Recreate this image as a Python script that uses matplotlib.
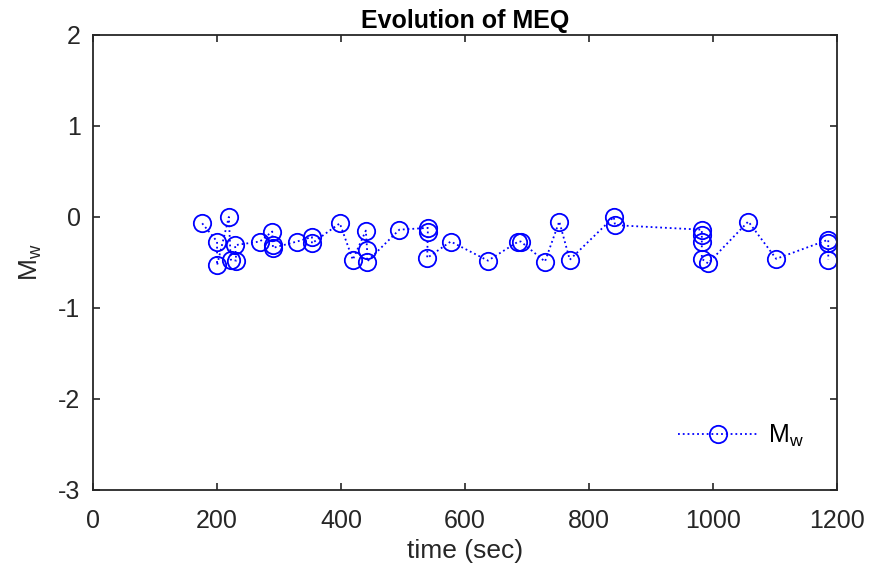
import numpy as np
import matplotlib
matplotlib.use("Agg")
import matplotlib.pyplot as plt

# event times (sec) and moment magnitudes
t_sec = [176, 200, 200, 219, 222, 231, 229, 269, 289, 290, 290, 329, 353, 353,
         398, 419, 440, 442, 442, 494, 540, 540, 539, 577, 637, 686, 690, 729,
         752, 769, 840, 842, 982, 982, 982, 982, 992, 1057, 1102, 1186, 1186,
         1186]
mw = [-0.07, -0.27, -0.53, 0.00, -0.47, -0.48, -0.31, -0.27, -0.16, -0.31,
      -0.34, -0.27, -0.22, -0.29, -0.07, -0.47, -0.15, -0.36, -0.49, -0.14,
      -0.12, -0.16, -0.45, -0.27, -0.48, -0.27, -0.27, -0.49, -0.05, -0.47,
      0.00, -0.09, -0.14, -0.20, -0.27, -0.46, -0.51, -0.05, -0.46, -0.25,
      -0.29, -0.47]

plt.rcParams['font.family'] = ['Liberation Sans', 'DejaVu Sans']
plt.rcParams['mathtext.default'] = 'regular'
plt.rcParams['axes.unicode_minus'] = False

fig = plt.figure(figsize=(8.7, 5.69), dpi=100)
ax = fig.add_axes([0.107, 0.139, 0.855, 0.7995])

ax.plot(t_sec, mw, ':', color='#0000ff', linewidth=1.3, marker='o',
        markersize=12.5, markerfacecolor='none', markeredgecolor='#0000ff',
        markeredgewidth=1.3, label='M$_w$')

ax.set_xlim(0, 1200)
ax.set_ylim(-3, 2)
ax.set_xticks([0, 200, 400, 600, 800, 1000, 1200])
ax.set_yticks([-3, -2, -1, 0, 1, 2])
ax.tick_params(direction='in', top=True, right=True, labelsize=18,
               length=5, width=1.2, colors='#262626', pad=9)
ax.tick_params(axis='x', pad=14)
for s in ax.spines.values():
    s.set_linewidth(1.3)
    s.set_color('#262626')

ax.set_xlabel('time (sec)', fontsize=19, color='#262626', labelpad=4)
ax.set_ylabel('M$_w$', fontsize=19, color='#262626', labelpad=10)
ax.set_title('Evolution of MEQ', fontsize=18, fontweight='bold', pad=5)

ax.legend(loc='lower right', frameon=False, fontsize=18,
          bbox_to_anchor=(0.985, 0.04), handlelength=3.2, handletextpad=0.4)

fig.savefig('out.png', dpi=100)
